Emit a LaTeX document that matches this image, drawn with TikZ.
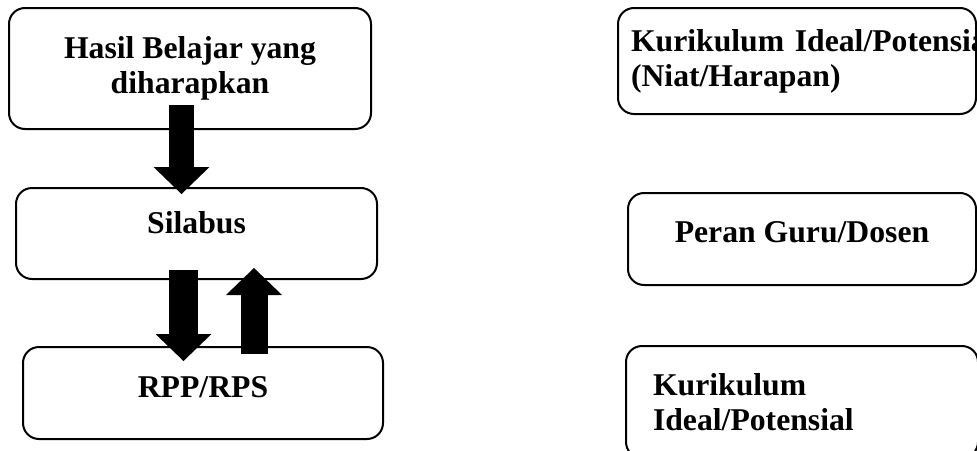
\documentclass[tikz,border=0pt]{standalone}
\usepackage{fontspec}
\setmainfont{Liberation Serif}
\usetikzlibrary{positioning,arrows.meta}

\begin{document}
\begin{tikzpicture}[x=1pt, y=-1pt,
    planBox/.style={rectangle, rounded corners=16pt, draw=black, line width=2pt, font=\fontsize{31.7}{35}\selectfont\bfseries, align=center, anchor=north west, inner sep=0pt},
    sideBox/.style={planBox, align=left, inner xsep=13pt},
    bigArrow/.style={line width=27pt, -{Triangle[length=27pt 0 0, width=56pt 0 0, line width=0pt 0 0]}}
]
    \useasboundingbox (0,0) rectangle (977,450);

    % kolom kiri
    \node[planBox, minimum width=362pt, minimum height=121pt] (hasil) at (8,7) {Hasil Belajar yang\\diharapkan};
    \node[planBox, minimum width=361pt, minimum height=91pt, text height=22pt, text depth=22pt] (silabus) at (15,187) {Silabus};
    \node[planBox, minimum width=360pt, minimum height=92pt, text height=22pt, text depth=14pt] (rpp) at (22,346) {RPP/RPS};

    % kolom kanan
    \node[sideBox, minimum height=106pt, text width=332pt] (ideal) at (617,7) {\mbox{Kurikulum Ideal/Potensial}\\(Niat/Harapan)};
    \node[planBox, minimum width=348pt, minimum height=92pt, text height=22pt, text depth=16pt] (peran) at (627,192) {Peran Guru/Dosen};
    \node[sideBox, inner xsep=27pt, minimum height=112pt, text width=298pt] (potensial) at (625,345) {Kurikulum\\Ideal/Potensial};

    % panah
    \draw[bigArrow, line width=25pt] ([xshift=-8.5pt,yshift=25pt]hasil.south) -- ([xshift=-15pt,yshift=-7pt]silabus.north);
    \draw[bigArrow, line width=29pt] ([xshift=-13pt,yshift=10pt]silabus.south) -- ([xshift=-19.5pt,yshift=-15pt]rpp.north);
    \draw[bigArrow] ([xshift=51pt,yshift=-8pt]rpp.north) -- ([xshift=57.5pt,yshift=12pt]silabus.south);
\end{tikzpicture}
\end{document}
